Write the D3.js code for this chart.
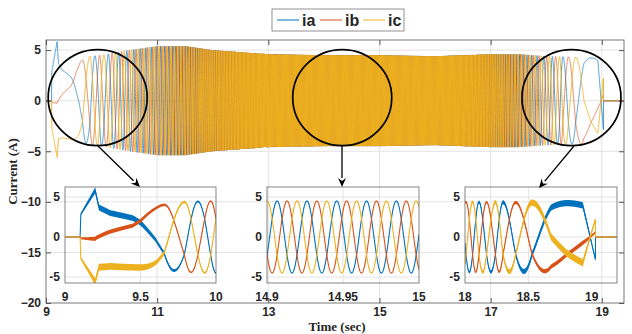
<!DOCTYPE html>
<html>
<head>
<meta charset="utf-8">
<script src="https://cdn.jsdelivr.net/npm/d3@7"></script>
<style>
body { margin: 0; background: #fff; }
svg { display: block; }
text { font-family: 'Liberation Sans', Arial, sans-serif; font-weight: bold; font-size: 12px; fill: #262626; }
.lbl { font-family: 'Liberation Serif', 'Times New Roman', serif; font-size: 13px; }
.axis path { display: none; }
.axis line { stroke: #555; }
</style>
</head>
<body>
<div id="chart"></div>
<script>
// ---- values ----
const seriesNames = ['ia', 'ib', 'ic'];
const phaseShiftDeg = [0, -120, 120];

// rotor angle (deg) at start-up, from the peaks in the 9..10 s zoom
const startT = [9.1, 9.2, 9.3, 9.45, 9.5, 9.6, 9.656, 9.72, 9.79, 9.835, 9.88, 9.925, 9.965, 10.0];
const startDeg = [27, 28, 40, 52, 62, 95, 120, 180, 240, 300, 360, 420, 480, 540];

// electrical frequency (Hz) between the two transients
const midT = [10.0, 10.4, 10.9, 11.3, 11.7, 12.2, 12.7, 13.2, 16.3, 16.8, 17.2, 17.6, 18.0];
const midHz = [3.7, 7, 11, 16, 24, 35, 45, 51, 51, 40, 25, 14, 6.3];

// phase seen at the left edge of the 14.9..15 s zoom (ic just at its peak)
const anchorT = 14.9;
const anchorDeg = 238;

// rotor angle (deg) while stopping, from the 18..19.2 s zoom
const stopT = [18.0, 18.008, 18.06, 18.11, 18.17, 18.24, 18.30, 18.40, 18.53, 18.68, 18.80, 18.93, 19.03];
const stopDeg = [100, 120, 240, 360, 480, 600, 720, 840, 960, 1050, 1078, 1100, 1098];

// current peak (A); the sign flips in the last 0.1 s before the stop
const ampT = [9.1, 9.105, 9.2, 9.225, 9.3, 9.5, 9.65, 9.8, 10.0, 10.5, 11.0, 11.5, 12.0, 13.0, 14.0, 15.0, 16.0, 17.0, 17.5, 18.0, 18.5, 18.93, 19.03];
const ampA = [0, 3.2, 6.6, 4.3, 3.9, 3.8, 4.0, 4.4, 4.5, 5.0, 5.4, 5.4, 5.0, 4.6, 4.5, 4.5, 4.4, 4.6, 4.6, 4.4, 4.3, 4.2, -3.0];

// thickness of the switching ripple band (A)
const ripT = [9.1, 9.2, 9.5, 9.65, 9.8, 10.0, 10.5, 17.5, 18.0, 18.3, 18.6, 18.93, 19.03];
const ripA = [0.3, 0.75, 0.7, 0.45, 0.25, 0.2, 0.05, 0.05, 0.3, 0.5, 0.75, 0.8, 0.3];
const ripScale = [1, 0.7, 1.15];

const tOn = 9.1;
const tOff = 19.03;

const mainXTicks = [9, 11, 13, 15, 17, 19];
const mainYTicks = [-20, -15, -10, -5, 0, 5];
const insetWindows = [[9, 10], [14.9, 15], [18, 19.2]];
const insetXTicks = [[9, 9.5, 10], [14.9, 14.95, 15], [18, 18.5, 19]];
const insetXLabels = [['9', '9.5', '10'], ['14.9', '14.95', '15'], ['18', '18.5', '19']];
const insetYTicks = [-5, 0, 5];

// ---- styles / layout ----
const colors = ['#0072BD', '#D95319', '#EDB120'];
const mainWidths = [0.7, 0.7, 0.95];
const W = 632, H = 334;
const main = { left: 46, top: 40, right: 624, bottom: 303 };
const insetBoxes = [
    { x0: 65, x1: 216 },
    { x0: 267, x1: 419 },
    { x0: 465, x1: 617 }
];
const insetTop = 187, insetBottom = 283;
const gridColor = '#e3e3e3';

// ---- signal model built from the read values ----
const startScale = d3.scaleLinear().domain(startT).range(startDeg).clamp(true);
const stopScale = d3.scaleLinear().domain(stopT).range(stopDeg).clamp(true);
const freqScale = d3.scaleLinear().domain(midT).range(midHz).clamp(true);
const ampScale = d3.scaleLinear().domain(ampT).range(ampA).clamp(true);
const ripScaleT = d3.scaleLinear().domain(ripT).range(ripA).clamp(true);

// integrate frequency over the middle section
const h = 0.0002;
const midAngle = [startDeg[startDeg.length - 1]];
for (let t = midT[0]; t < midT[midT.length - 1] - h / 2; t += h) {
    const f = (freqScale(t) + freqScale(t + h)) / 2;
    midAngle.push(midAngle[midAngle.length - 1] + 360 * f * h);
}
function rawMid(t) {
    const p = (t - midT[0]) / h;
    const i = Math.max(0, Math.min(midAngle.length - 2, Math.floor(p)));
    return midAngle[i] + (midAngle[i + 1] - midAngle[i]) * (p - i);
}
function wrap(a) { return ((a % 360) + 540) % 360 - 180; }
const r1 = wrap(anchorDeg - rawMid(anchorT));
const r2 = wrap(stopDeg[0] - (rawMid(18) + r1));
const kStop = rawMid(18) + r1 + r2 - stopDeg[0];

function angle(t) {
    if (t < midT[0]) return startScale(t);
    if (t > 18) return stopScale(t) + kStop;
    const c1 = r1 * Math.min(1, (t - midT[0]) / (anchorT - midT[0]));
    const c2 = r2 * Math.max(0, Math.min(1, (t - 15) / 3));
    return rawMid(t) + c1 + c2;
}
function current(k, t) {
    if (t < tOn || t > tOff) return 0;
    return ampScale(t) * Math.cos((angle(t) + phaseShiftDeg[k]) * Math.PI / 180);
}
function sample(t0, t1, dt) {
    const out = [];
    for (let t = t0; t <= t1 + 1e-9; t += dt) out.push(t);
    return out;
}

// ---- drawing ----
const svg = d3.select('#chart').append('svg').attr('width', W).attr('height', H);
svg.append('rect').attr('width', W).attr('height', H).attr('fill', '#fff');

const x = d3.scaleLinear().domain([9, 19.4]).range([main.left, main.right]);
const y = d3.scaleLinear().domain([-20, 6]).range([main.bottom, main.top]);

// grid
const grid = svg.append('g');
grid.selectAll('.gx').data(mainXTicks.slice(1)).enter().append('line')
    .attr('x1', d => x(d)).attr('x2', d => x(d))
    .attr('y1', main.top).attr('y2', main.bottom)
    .attr('stroke', gridColor);
grid.selectAll('.gy').data(mainYTicks.slice(1)).enter().append('line')
    .attr('x1', main.left).attr('x2', main.right)
    .attr('y1', d => y(d)).attr('y2', d => y(d))
    .attr('stroke', gridColor);

svg.append('clipPath').attr('id', 'mainClip').append('rect')
    .attr('x', main.left).attr('y', main.top)
    .attr('width', main.right - main.left).attr('height', main.bottom - main.top);

const mainTimes = sample(9, 19.4, 0.001);
const mainLine = d3.line().x(d => x(d[0])).y(d => y(d[1]));
const mainG = svg.append('g').attr('clip-path', 'url(#mainClip)');
seriesNames.forEach((name, k) => {
    mainG.append('path')
        .attr('d', mainLine(mainTimes.map(t => [t, current(k, t)])))
        .attr('fill', 'none')
        .attr('stroke', colors[k])
        .attr('stroke-width', mainWidths[k]);
});

// main axes
svg.append('g').attr('class', 'axis')
    .attr('transform', 'translate(0,' + main.bottom + ')')
    .call(d3.axisBottom(x).tickValues(mainXTicks).tickSize(-5).tickPadding(4).tickFormat(d3.format('d')));
svg.append('g').attr('class', 'axis')
    .attr('transform', 'translate(0,' + main.top + ')')
    .call(d3.axisTop(x).tickValues(mainXTicks).tickSize(-5).tickFormat(''));
svg.append('g').attr('class', 'axis')
    .attr('transform', 'translate(' + main.left + ',0)')
    .call(d3.axisLeft(y).tickValues(mainYTicks).tickSize(-5).tickPadding(5).tickFormat(d3.format('d')));
svg.append('g').attr('class', 'axis')
    .attr('transform', 'translate(' + main.right + ',0)')
    .call(d3.axisRight(y).tickValues(mainYTicks).tickSize(-5).tickFormat(''));
svg.selectAll('.axis text').style('font-size', '12px').attr('fill', '#262626');
svg.append('rect')
    .attr('x', main.left).attr('y', main.top)
    .attr('width', main.right - main.left).attr('height', main.bottom - main.top)
    .attr('fill', 'none').attr('stroke', '#555').attr('stroke-width', 0.8);

svg.append('text').attr('class', 'lbl')
    .attr('transform', 'translate(17,' + ((main.top + main.bottom) / 2) + ') rotate(-90)')
    .attr('text-anchor', 'middle')
    .text('Current (A)');
svg.append('text').attr('class', 'lbl')
    .attr('x', (main.left + main.right) / 2 + 2).attr('y', 331)
    .attr('text-anchor', 'middle')
    .text('Time (sec)');

// insets
insetWindows.forEach((win, n) => {
    const box = insetBoxes[n];
    const ix = d3.scaleLinear().domain(win).range([box.x0, box.x1]);
    const iy = d3.scaleLinear().domain([-5.75, 6.25]).range([insetBottom, insetTop]);
    const g = svg.append('g');
    const clipId = 'inClip' + n;
    g.append('clipPath').attr('id', clipId).append('rect')
        .attr('x', box.x0).attr('y', insetTop)
        .attr('width', box.x1 - box.x0).attr('height', insetBottom - insetTop);

    g.selectAll('.gx').data(insetXTicks[n].slice(1, -1)).enter().append('line')
        .attr('x1', d => ix(d)).attr('x2', d => ix(d))
        .attr('y1', insetTop).attr('y2', insetBottom).attr('stroke', gridColor);
    g.selectAll('.gy').data(insetYTicks).enter().append('line')
        .attr('x1', box.x0).attr('x2', box.x1)
        .attr('y1', d => iy(d)).attr('y2', d => iy(d)).attr('stroke', gridColor);

    const dt = (win[1] - win[0]) / 1500;
    const times = sample(win[0], win[1], dt);
    const plot = g.append('g').attr('clip-path', 'url(#' + clipId + ')');
    seriesNames.forEach((name, k) => {
        const pts = times.map(t => [t, current(k, t), (t >= tOn && t <= tOff) ? ripScaleT(t) * ripScale[k] : 0]);
        plot.append('path')
            .attr('d', d3.area().x(d => ix(d[0])).y0(d => iy(d[1] - d[2] / 2)).y1(d => iy(d[1] + d[2] / 2))(pts))
            .attr('fill', colors[k]);
        plot.append('path')
            .attr('d', d3.line().x(d => ix(d[0])).y(d => iy(d[1]))(pts))
            .attr('fill', 'none').attr('stroke', colors[k]).attr('stroke-width', 1.1);
    });

    g.append('rect')
        .attr('x', box.x0).attr('y', insetTop)
        .attr('width', box.x1 - box.x0).attr('height', insetBottom - insetTop)
        .attr('fill', 'none').attr('stroke', '#666').attr('stroke-width', 0.8);

    g.selectAll('.tx').data(insetXTicks[n]).enter().append('text')
        .attr('x', d => ix(d)).attr('y', 301)
        .attr('text-anchor', 'middle')
        .text((d, i) => insetXLabels[n][i]);
    g.selectAll('.ty').data(insetYTicks).enter().append('text')
        .attr('x', box.x0 - 5).attr('y', d => iy(d)).attr('dy', '0.35em')
        .attr('text-anchor', 'end')
        .text(d => d);
});

// zoom circles and arrows
const circles = [
    { cx: 9.93, cy: 0.3, arrowFrom: [97, 145], arrowTo: [140, 187] },
    { cx: 14.33, cy: 0.3, arrowFrom: [342, 146], arrowTo: [342, 187] },
    { cx: 18.455, cy: 0.3, arrowFrom: [574, 146], arrowTo: [539, 188] }
];
const ann = svg.append('g');
circles.forEach(c => {
    ann.append('ellipse')
        .attr('cx', x(c.cx)).attr('cy', y(c.cy))
        .attr('rx', 49.5).attr('ry', 48)
        .attr('fill', 'none').attr('stroke', '#000').attr('stroke-width', 1.7);
    const [x1, y1] = c.arrowFrom, [x2, y2] = c.arrowTo;
    const a = Math.atan2(y2 - y1, x2 - x1);
    const len = 9, wid = 4;
    const bx = x2 - len * Math.cos(a), by = y2 - len * Math.sin(a);
    ann.append('line').attr('x1', x1).attr('y1', y1).attr('x2', bx).attr('y2', by)
        .attr('stroke', '#000').attr('stroke-width', 1.3);
    const px = -Math.sin(a) * wid, py = Math.cos(a) * wid;
    const nx = x2 - 6 * Math.cos(a), ny = y2 - 6 * Math.sin(a);
    ann.append('path')
        .attr('d', 'M' + x2 + ',' + y2 + 'L' + (bx + px) + ',' + (by + py) + 'L' + nx + ',' + ny + 'L' + (bx - px) + ',' + (by - py) + 'Z')
        .attr('fill', '#000');
});

// legend
const lg = svg.append('g').attr('transform', 'translate(272,9)');
lg.append('rect').attr('width', 132).attr('height', 22)
    .attr('fill', '#fff').attr('stroke', '#777').attr('stroke-width', 0.8);
seriesNames.forEach((name, k) => {
    const ox = 5 + k * 43;
    lg.append('line').attr('x1', ox).attr('x2', ox + 22).attr('y1', 11).attr('y2', 11)
        .attr('stroke', colors[k]).attr('stroke-width', 1);
    lg.append('text').attr('x', ox + 25).attr('y', 16.5)
        .style('font-size', '16px')
        .text(name);
});
</script>
</body>
</html>
